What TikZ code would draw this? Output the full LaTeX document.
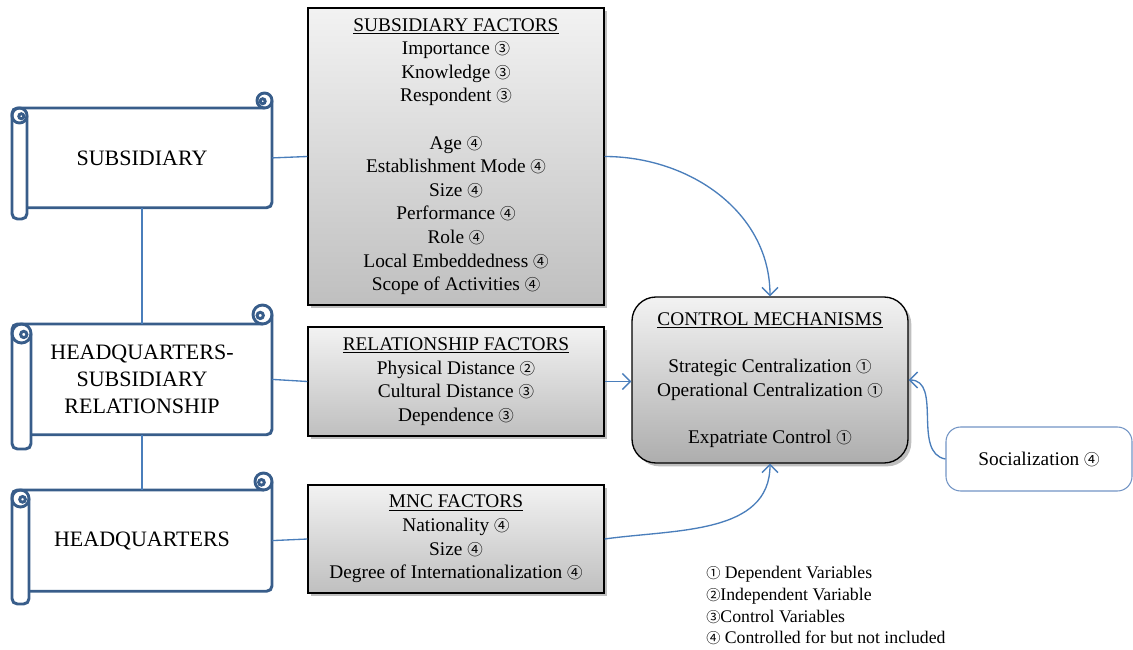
\documentclass[tikz,border=0pt]{standalone}
\usepackage{fontspec}
\setmainfont{Liberation Serif}
\newfontfamily\circfont[Scale=0.8]{Noto Sans CJK JP}
\usetikzlibrary{arrows.meta,shadows}
\definecolor{scrollblue}{HTML}{385D8A}
\definecolor{linkblue}{HTML}{4A7EBB}
\definecolor{socblue}{HTML}{7294C4}
\newcommand{\ciOne}{{\circfont ①}}
\newcommand{\ciTwo}{{\circfont ②}}
\newcommand{\ciThree}{{\circfont ③}}
\newcommand{\ciFour}{{\circfont ④}}

% scroll banner outline: x0, y0, x1, y1, roll size (pixel units, y measured downward)
\newcommand{\bannerscroll}[5]{%
  \draw[scrollline, rounded corners=4pt]
    ({#3-#5/2},{-(#2+#5)}) -- (#1,{-(#2+#5)}) -- (#1,-#4) -- ({#1+#5},-#4) -- ({#1+#5},{-(#2+1.5*#5)});
  \draw[scrollline] ({#1+#5/2},{-(#2+1.5*#5)}) circle[radius={#5/2}];
  \draw[scrollline] ({#1+0.62*#5},{-(#2+1.55*#5)}) circle[radius={#5/6}];
  \draw[scrollline, rounded corners=4pt]
    (#3,{-(#2+#5/2)}) -- (#3,{-(#4-0.75*#5)}) -- ({#1+#5},{-(#4-0.75*#5)});
  \draw[scrollline] ({#3-#5/2},{-(#2+#5/2)}) circle[radius={#5/2}];
  \draw[scrollline] ({#3-0.62*#5},{-(#2+0.55*#5)}) circle[radius={#5/6}];
}

\begin{document}
\begin{tikzpicture}[x=0.75pt, y=0.75pt,
  scrollline/.style={draw=scrollblue, line width=2.2pt},
  link/.style={draw=linkblue, line width=1pt},
  arrowlink/.style={link, -{Straight Barb[length=6pt, width=12pt]}},
  bannertext/.style={align=center, font=\fontsize{16.5}{20.25}\selectfont, inner sep=0pt, minimum width=195pt},
  factorbox/.style={draw=black, line width=1pt, top color=black!5, bottom color=black!25,
    drop shadow={shadow xshift=2.5pt, shadow yshift=-2.5pt, fill=black, opacity=0.25},
    align=center, font=\fontsize{14.5}{17.7}\selectfont, inner sep=0pt},
]
\useasboundingbox (0,0) rectangle (1133,-650);

% left-hand scroll banners
\bannerscroll{12}{93}{272}{219}{15}
\bannerscroll{12}{305}{272}{449}{19}
\bannerscroll{12}{473}{272}{604}{17}

\node[bannertext, minimum height=74.8pt] (sub) at (142,-157.9) {SUBSIDIARY};
\node[bannertext, minimum height=83.1pt] (hsr) at (142,-379.4) {HEADQUARTERS-\\SUBSIDIARY\\RELATIONSHIP};
\node[bannertext, minimum height=75.9pt] (hq) at (142,-540.6) {HEADQUARTERS};

% factor boxes
\node[factorbox, minimum width=222pt, minimum height=222.75pt] (sf) at (456,-156.5)
  {\underline{SUBSIDIARY FACTORS}\\ Importance \ciThree\\ Knowledge \ciThree\\ Respondent \ciThree\\[17.7pt]
   Age \ciFour\\ Establishment Mode \ciFour\\ Size \ciFour\\ Performance \ciFour\\ Role \ciFour\\
   Local Embeddedness \ciFour\\ Scope of Activities \ciFour};
\node[factorbox, minimum width=222pt, minimum height=81.75pt] (rf) at (456,-381.5)
  {\underline{RELATIONSHIP FACTORS}\\ Physical Distance \ciTwo\\ Cultural Distance \ciThree\\ Dependence \ciThree};
\node[factorbox, minimum width=222pt, minimum height=81pt] (mf) at (456,-539)
  {\underline{MNC FACTORS}\\ Nationality \ciFour\\ Size \ciFour\\ Degree of Internationalization \ciFour};

% outcome
\node[factorbox, bottom color=black!32, rounded corners=18pt, minimum width=207pt, minimum height=124.5pt] (cm) at (770,-380)
  {\underline{CONTROL MECHANISMS}\\[17.7pt] Strategic Centralization \ciOne\\ Operational Centralization \ciOne\\[17.7pt] Expatriate Control \ciOne};

\node[draw=socblue, line width=0.8pt, rounded corners=11pt, minimum width=139.5pt, minimum height=48pt,
  font=\fontsize{14.5}{17.7}\selectfont] (soc) at (1039,-459) {Socialization \ciFour};

% key
\node[anchor=north west, align=left, font=\fontsize{13.3}{16.3}\selectfont, inner sep=0pt] (key) at (706,-566)
  {\ciOne\ Dependent Variables\\ \ciTwo Independent Variable\\ \ciThree Control Variables\\ \ciFour\ Controlled for but not included};

% connectors
\draw[link] (sub.south) -- (hsr.north);
\draw[link] (hsr.south) -- (hq.north);
\draw[link] (sub.east) -- (sf.west);
\draw[link] (hsr.east) -- (rf.west);
\draw[link] (hq.east) -- (mf.west);
\draw[arrowlink] (sf.east) to[out=0, in=90] (cm.north);
\draw[arrowlink] (rf.east) -- (rf.east -| cm.west);
\draw[arrowlink] (mf.east) to[out=8, in=-90] (cm.south);
\draw[arrowlink] (soc.west) to[out=170, in=0] (cm.east);
\end{tikzpicture}
\end{document}
